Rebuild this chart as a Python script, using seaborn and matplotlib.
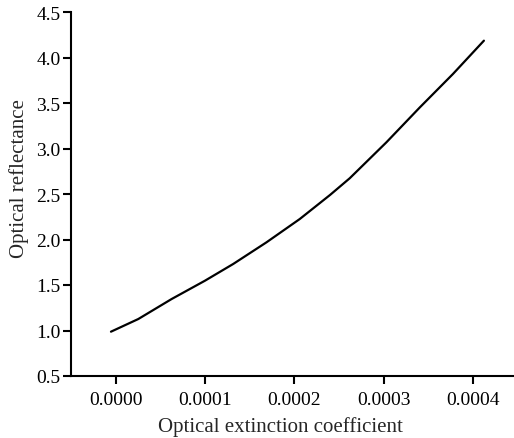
import matplotlib
matplotlib.use("Agg")
import matplotlib.pyplot as plt
import seaborn as sns
import pandas as pd

extinction = [-0.0000056, 0.000025, 0.0000624, 0.0000997, 0.0001314, 0.0001687,
              0.000206, 0.00024, 0.000262, 0.0003031, 0.0003404, 0.0003777, 0.0004124]
reflectance = [0.987, 1.126, 1.346, 1.547, 1.731, 1.969,
               2.225, 2.49, 2.673, 3.068, 3.45, 3.819, 4.185]
xticks = [0.0, 0.0001, 0.0002, 0.0003, 0.0004]
xtick_labels = ["0.0000", "0.0001", "0.0002", "0.0003", "0.0004"]
yticks = [0.5, 1.0, 1.5, 2.0, 2.5, 3.0, 3.5, 4.0, 4.5]

df = pd.DataFrame({"Optical extinction coefficient": extinction,
                   "Optical reflectance": reflectance})

sns.set_style("ticks")
plt.rcParams["font.family"] = ["Liberation Serif", "DejaVu Serif"]

fig = plt.figure(figsize=(5.14, 4.39), dpi=100)
ax = fig.add_axes([71 / 514, 1 - 377 / 439, (513 - 71) / 514, (377 - 13) / 439])

sns.lineplot(data=df, x="Optical extinction coefficient", y="Optical reflectance",
             ax=ax, color="black", linewidth=1.6, sort=False)

ax.set_xlim(-0.0000504, 0.000445)
ax.set_ylim(0.5, 4.5)
ax.set_xticks(xticks)
ax.set_xticklabels(xtick_labels)
ax.set_yticks(yticks)
ax.set_yticklabels([f"{v:.1f}" for v in yticks])

for s in ["top", "right"]:
    ax.spines[s].set_visible(False)
for s in ["left", "bottom"]:
    ax.spines[s].set_linewidth(1.5)
    ax.spines[s].set_color("black")

ax.tick_params(axis="both", direction="out", length=5.5, width=1.5,
               labelsize=14, colors="black")
ax.tick_params(axis="x", pad=5)
ax.tick_params(axis="y", pad=2)
ax.set_xlabel("Optical extinction coefficient", fontsize=15, labelpad=6)
ax.set_ylabel("Optical reflectance", fontsize=15, labelpad=5)
ax.xaxis.label.set_x(0.474)
ax.yaxis.label.set_y(0.544)

fig.savefig("out.png", dpi=100)
